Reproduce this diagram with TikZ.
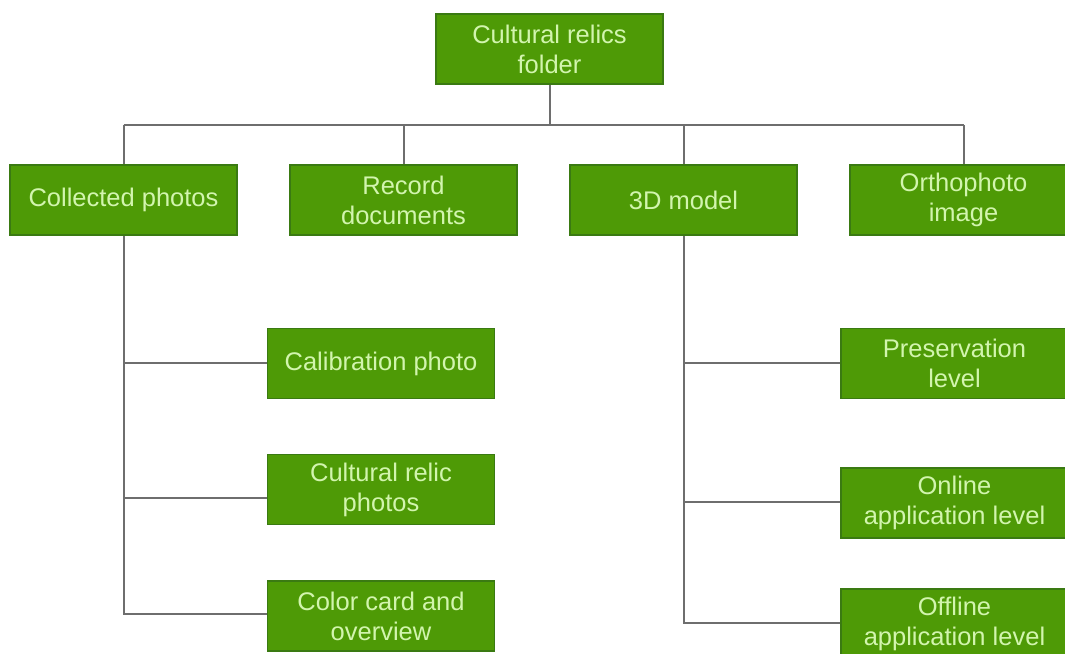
\documentclass[tikz,border=0pt]{standalone}
\usepackage{fontspec}
\setmainfont{Liberation Sans}
\definecolor{boxfill}{HTML}{4E9A06}
\definecolor{boxline}{HTML}{3A7A12}
\definecolor{boxtext}{HTML}{D2F5AE}
\definecolor{linkgray}{HTML}{6E6E6E}
\tikzset{
  gbox/.style={draw=boxline, line width=1.2pt, fill=boxfill, text=boxtext,
    minimum width=227pt, minimum height=70pt, inner sep=2pt, align=center,
    font=\fontsize{25.5}{30}\selectfont},
  link/.style={draw=linkgray, line width=2pt}
}
\begin{document}
\begin{tikzpicture}[x=1pt,y=-1pt]
\useasboundingbox (0,0) rectangle (1065,653);
% nodes
\node[gbox] (root) at (549.5,49) {Cultural relics\\folder};
\node[gbox] (col) at (123.5,200) {Collected photos};
\node[gbox] (rec) at (403.5,200) {Record\\documents};
\node[gbox] (mod) at (683.5,200) {3D model};
\node[gbox] (ort) at (963.5,200) {Orthophoto\\image};
\node[gbox] (cal) at (381,363.5) {Calibration photo};
\node[gbox] (rel) at (381,489.5) {Cultural relic\\photos};
\node[gbox] (car) at (381,616) {Color card and\\overview};
\node[gbox] (pre) at (954.5,363.5) {Preservation\\level};
\node[gbox] (onl) at (954.5,503) {Online\\application level};
\node[gbox] (off) at (954.5,624) {Offline\\application level};
% bus coordinates
\coordinate (busL) at (123.5,125);
\coordinate (busR) at (963.5,125);
\coordinate (rootbus) at (549.5,125);
\coordinate (cb1) at (123.5,363);
\coordinate (cb2) at (123.5,498);
\coordinate (cb3) at (123.5,614);
\coordinate (mb1) at (683.5,363);
\coordinate (mb2) at (683.5,502);
\coordinate (mb3) at (683.5,623);
% connectors
\draw[link] (root.south) -- (rootbus);
\draw[link] (busL) -- (busR);
\draw[link] (busL) -- (col.north);
\draw[link] (rec.north |- busL) -- (rec.north);
\draw[link] (mod.north |- busL) -- (mod.north);
\draw[link] (busR) -- (ort.north);
\draw[link] (col.south) -- (cb3) -- (cb3 -| car.west);
\draw[link] (cb1) -- (cb1 -| cal.west);
\draw[link] (cb2) -- (cb2 -| rel.west);
\draw[link] (mod.south) -- (mb3) -- (mb3 -| off.west);
\draw[link] (mb1) -- (mb1 -| pre.west);
\draw[link] (mb2) -- (mb2 -| onl.west);
\end{tikzpicture}
\end{document}
